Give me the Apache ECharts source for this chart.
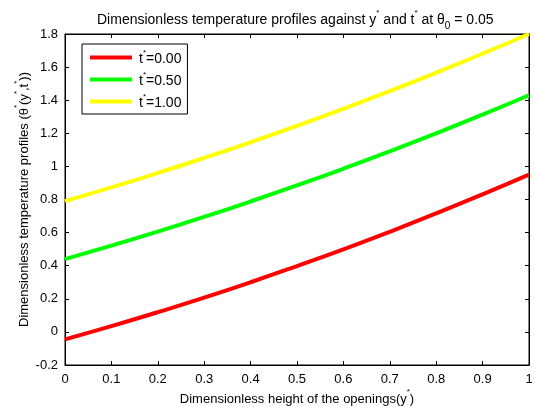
<!DOCTYPE html>
<html><head><meta charset="utf-8">
<script src="https://cdn.jsdelivr.net/npm/echarts@6/dist/echarts.min.js"></script>
<style>html,body{margin:0;padding:0;background:#fff}#c{width:535px;height:407px}</style>
</head><body><div id="c"></div>
<script>
var yStar = [0, 0.1, 0.2, 0.3, 0.4, 0.5, 0.6, 0.7, 0.8, 0.9, 1.0];
var theta_t000 = [-0.045, 0.035, 0.119, 0.207, 0.300, 0.398, 0.499, 0.605, 0.716, 0.831, 0.95];
var theta_t050 = [0.44, 0.521, 0.606, 0.695, 0.788, 0.885, 0.986, 1.091, 1.200, 1.313, 1.43];
var theta_t100 = [0.79, 0.873, 0.960, 1.051, 1.146, 1.245, 1.348, 1.455, 1.566, 1.681, 1.80];
var seriesNames = ['t*=0.00', 't*=0.50', 't*=1.00'];
var seriesColors = ['#ff0000', '#00ff00', '#ffff00'];
var xTicks = {min: 0, max: 1, interval: 0.1};
var yTicks = {min: -0.2, max: 1.8, interval: 0.2};

var FONT = 'Liberation Sans, Arial, sans-serif';
function pairs(ys){ return yStar.map(function(x,i){ return [x, ys[i]]; }); }
var allData = [theta_t000, theta_t050, theta_t100];

function mkRich(fs){
  return {
    n: {fontSize: fs, fontFamily: FONT, fontWeight: 'normal', color: '#000', lineHeight: 18, verticalAlign: 'bottom'},
    s: {fontSize: 8, fontFamily: FONT, fontWeight: 'normal', color: '#000', lineHeight: 18, verticalAlign: 'top'},
    b: {fontSize: 10, fontFamily: FONT, fontWeight: 'normal', color: '#000', lineHeight: 18, verticalAlign: 'bottom', padding:[0,0,-4,0]}
  };
}
var lrich = {
  n: {fontSize: 14, fontFamily: FONT, color: '#000', lineHeight: 17, verticalAlign: 'bottom'},
  s: {fontSize: 8, fontFamily: FONT, color: '#000', lineHeight: 17, verticalAlign: 'top'}
};

var chart = echarts.init(document.getElementById('c'), null, {renderer: 'canvas'});
var axisCommon = {
  axisLine: {show: true, onZero: false, lineStyle: {color: '#000', width: 1}},
  axisTick: {show: true, inside: true, length: 4, lineStyle: {color: '#000'}},
  splitLine: {show: false}
};
chart.setOption({
  animation: false,
  backgroundColor: '#fff',
  title: {
    text: '{n|Dimensionless temperature profiles against y}{s|*}{n| and t}{s|*}{n| at θ}{b|0}{n| = 0.05}',
    left: 92, top: 4,
    textStyle: {rich: mkRich(14), fontWeight: 'normal'}
  },
  legend: {
    orient: 'vertical', left: 82, top: 44,
    padding: [5, 6, 4, 8],
    itemGap: 5, itemWidth: 42, itemHeight: 4,
    icon: 'rect',
    borderColor: '#000', borderWidth: 1, backgroundColor: '#fff',
    data: seriesNames,
    formatter: function(name){ var v = name.split('=')[1]; return '{n|t}{s|*}{n|=' + v + '}'; },
    textStyle: {rich: lrich, padding: [0,0,0,2]}
  },
  grid: {left: 65, right: 6, top: 34, bottom: 42, show: true, borderColor: '#000', borderWidth: 1,
         containLabel: false, outerBoundsMode: 'none'},
  xAxis: [
    Object.assign({
      type: 'value', min: xTicks.min, max: xTicks.max, interval: xTicks.interval,
      name: '{n|Dimensionless height of the openings(y}{s|*}{n|)}',
      nameLocation: 'middle', nameGap: 23, nameMoveOverlap: false,
      nameTextStyle: {rich: mkRich(13)},
      axisLabel: {color: '#000', fontSize: 13, fontFamily: FONT, margin: 8}
    }, axisCommon),
    Object.assign({
      type: 'value', position: 'top', min: xTicks.min, max: xTicks.max, interval: xTicks.interval,
      axisLabel: {show: false}
    }, axisCommon)
  ],
  yAxis: [
    Object.assign({
      type: 'value', min: yTicks.min, max: yTicks.max, interval: yTicks.interval,
      name: '{n|Dimensionless temperature profiles (θ}{s|*}{n|(y}{s|*}{n|,t}{s|*}{n|))}',
      nameLocation: 'middle', nameGap: 34, nameRotate: 90, nameMoveOverlap: false,
      nameTextStyle: {rich: mkRich(13)},
      axisLabel: {color: '#000', fontSize: 13, fontFamily: FONT, margin: 7}
    }, axisCommon),
    Object.assign({
      type: 'value', position: 'right', min: yTicks.min, max: yTicks.max, interval: yTicks.interval,
      axisLabel: {show: false}
    }, axisCommon)
  ],
  series: seriesNames.map(function(nm, i){
    return {
      name: nm, type: 'line', data: pairs(allData[i]), smooth: true,
      showSymbol: false, symbol: 'none',
      lineStyle: {color: seriesColors[i], width: 4},
      itemStyle: {color: seriesColors[i]},
      z: 2 + i
    };
  })
});
</script></body></html>
